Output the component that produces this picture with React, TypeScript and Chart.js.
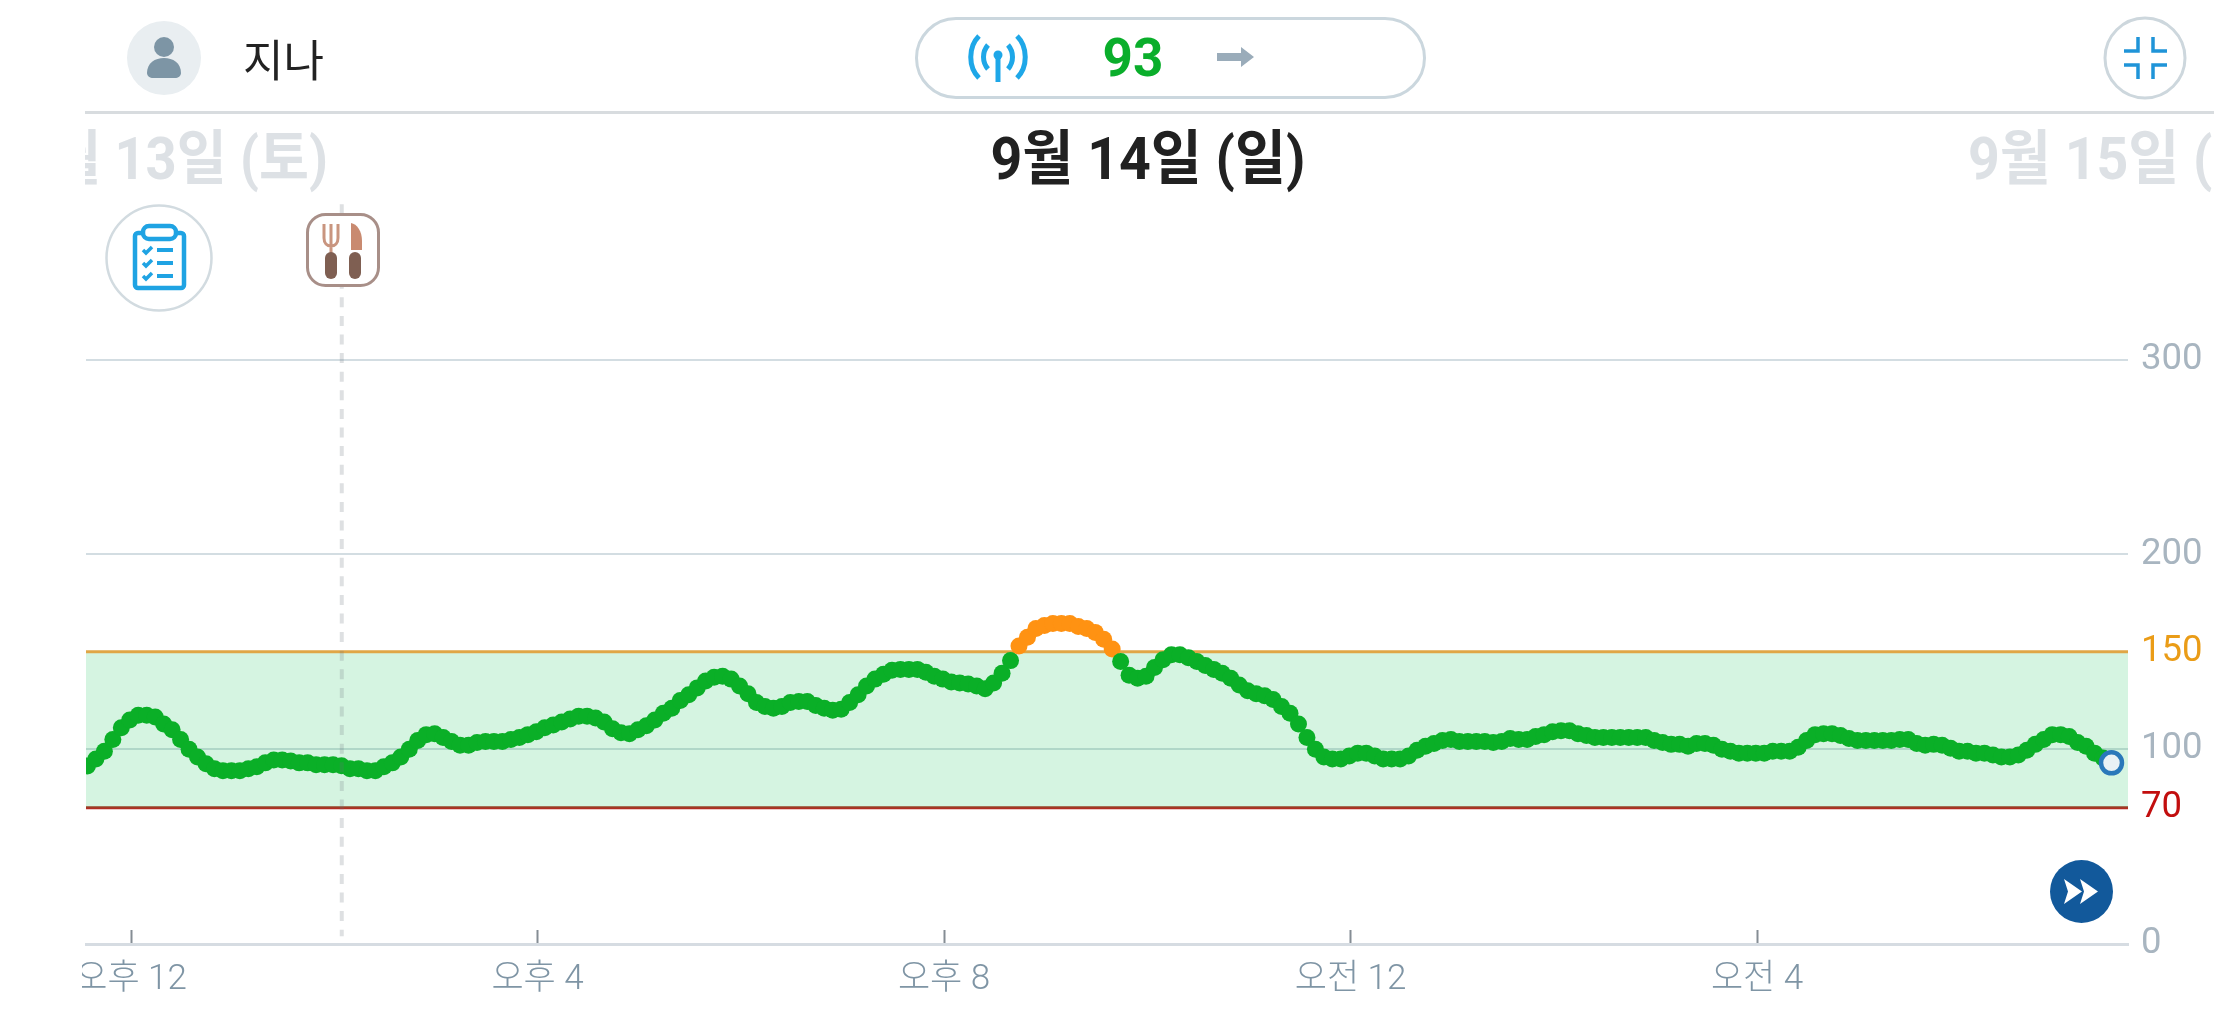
import React, { useEffect, useRef } from "react";
import { Chart, registerables } from "chart.js";

Chart.register(...registerables);

// Glucose readings at a 5 minute interval
const glucoseValues = [
  91.4, 95, 99, 105, 111, 115, 117.5, 117.5, 116.5, 113, 110, 105, 100, 96, 92.5, 90, 89, 89, 89, 90,
  91, 93, 94.5, 94.5, 94, 93, 93, 92, 92, 92, 91.5, 90, 90, 89, 89, 91, 93, 96, 100, 104.5,
  107.5, 108, 106, 104, 102, 102, 103.5, 104, 104, 104, 105, 106, 107.5, 109, 111, 112.5, 114, 115.5, 117, 117,
  116, 114, 110.5, 108.5, 108, 110, 112, 115, 118.5, 121, 125, 128, 131.5, 135, 137, 137.5, 136, 132.5, 128.5, 124,
  122, 121, 122, 124, 124.5, 124.5, 122.5, 121, 120, 120.5, 124, 128, 132.5, 136, 138.5, 140.5, 141, 141, 141, 139.5,
  137.5, 136, 134.5, 134, 133.5, 132.5, 131, 134, 139, 145.5, 153, 157.5, 162, 163.5, 164.5, 164.5, 164.5, 163, 162, 160,
  156.5, 151.5, 145, 138, 136.5, 137.5, 142, 146, 148.5, 148.5, 147, 145, 143, 141, 139, 136.5, 133, 130, 128.5, 127.5,
  125.5, 122, 118.5, 113, 106, 100, 96, 95, 95, 96.5, 98, 98, 96.5, 95, 95, 95, 96.5, 99.5, 101.5, 103,
  104.5, 105, 104, 104, 104, 104, 103.5, 104, 105.5, 105, 105, 106.5, 107.5, 109, 109.5, 109.5, 108, 107, 106, 106,
  106, 106, 106, 106, 106, 104.5, 103.5, 102.5, 102.5, 101.5, 103, 103, 102, 100, 99, 98, 98, 98, 98, 99,
  99, 99, 101, 104.5, 107.5, 108, 108, 107, 105.5, 104.5, 104.5, 104.5, 104.5, 104.5, 105, 105, 103, 102, 102.5, 102,
  100.5, 99, 99, 98, 98, 97, 96, 96, 97, 99.5, 102.5, 105, 107.5, 107.5, 106.5, 103.5, 101.5, 98, 95.5, 93,
];
const firstMinute = -25.75; // minutes after noon of the first reading
const stepMinutes = 5;
const mealMinute = 124.4;
const minuteMin = -26.6;
const minuteMax = 1179;
const tickMinutes = [0, 240, 480, 720, 960];
const tickLabels = ["오후 12", "오후 4", "오후 8", "오전 12", "오전 4"];
const yTicks = [0, 70, 100, 150, 200, 300];
const yMax = 382;
const lowLimit = 70;
const highLimit = 150;

const FONT = "Roboto, 'Noto Sans CJK KR', sans-serif";

const abs = (l: number, t: number, w: number, h: number): React.CSSProperties => ({
  position: "absolute",
  left: l,
  top: t,
  width: w,
  height: h,
});

function GlucoseChart() {
  const ref = useRef<HTMLCanvasElement>(null);
  useEffect(() => {
    const points = glucoseValues.map((y, i) => ({ x: firstMinute + i * stepMinutes, y }));
    const last = points[points.length - 1];
    const chart = new Chart(ref.current!, {
      type: "scatter",
      data: {
        datasets: [
          {
            label: "meal",
            data: [
              { x: mealMinute, y: yMax },
              { x: mealMinute, y: 4 },
            ],
            showLine: true,
            pointRadius: 0,
            borderColor: "rgba(105,115,125,0.22)",
            borderWidth: 4,
            borderDash: [10, 8.6],
            borderDashOffset: 14.3,
            order: 0,
          },
          {
            label: "current",
            data: [last],
            pointRadius: 10.5,
            pointBorderWidth: 4.5,
            pointBackgroundColor: "#e9f1f5",
            pointBorderColor: "#2a78ba",
            clip: false,
            order: 1,
          },
          {
            label: "glucose",
            data: points.slice(0, -1),
            pointRadius: 8.5,
            pointBorderWidth: 0,
            pointBackgroundColor: (c: any) => (c.raw && c.raw.y > highLimit ? "#ff9212" : "#0aaf27"),
            clip: 0,
            order: 2,
          },
          {
            label: "high",
            data: [
              { x: minuteMin, y: highLimit },
              { x: minuteMax, y: highLimit },
            ],
            showLine: true,
            pointRadius: 0,
            borderColor: "#e0a646",
            borderWidth: 3,
            fill: { value: lowLimit },
            backgroundColor: "rgba(0,190,70,0.165)",
            order: 3,
          },
          {
            label: "low",
            data: [
              { x: minuteMin, y: lowLimit },
              { x: minuteMax, y: lowLimit },
            ],
            showLine: true,
            pointRadius: 0,
            borderColor: "#b32b22",
            borderWidth: 3,
            order: 4,
          },
        ],
      },
      options: {
        animation: false,
        responsive: false,
        layout: { autoPadding: false, padding: { left: 4, top: 200, right: 0, bottom: 0 } },
        plugins: { legend: { display: false }, tooltip: { enabled: false } },
        scales: {
          x: {
            type: "linear",
            position: "bottom",
            min: minuteMin,
            max: minuteMax,
            afterBuildTicks: (s: any) => {
              s.ticks = tickMinutes.map((value) => ({ value }));
            },
            afterFit: (s: any) => {
              s.height = 73;
              s.paddingLeft = s.paddingRight = s.paddingTop = s.paddingBottom = 0;
            },
            border: { color: "#d6dce2", width: 3 },
            grid: {
              drawOnChartArea: false,
              drawTicks: true,
              tickLength: -14,
              tickColor: "#858d94",
              tickWidth: 2,
            },
            ticks: {
              autoSkip: false,
              maxRotation: 0,
              padding: 29,
              color: "#7f95a5",
              font: { family: FONT, size: 35, weight: "300" },
              callback: (v: any) => tickLabels[tickMinutes.indexOf(v)],
            },
          },
          y: {
            type: "linear",
            position: "right",
            min: 0,
            max: yMax,
            afterBuildTicks: (s: any) => {
              s.ticks = yTicks.map((value) => ({ value }));
            },
            afterFit: (s: any) => {
              s.width = 86;
              s.paddingLeft = s.paddingRight = s.paddingTop = s.paddingBottom = 0;
            },
            border: { display: false },
            grid: {
              drawTicks: false,
              lineWidth: 2,
              color: (c: any) =>
                c.tick && (c.tick.value === 100 || c.tick.value === 200 || c.tick.value === 300)
                  ? "#d3dde2"
                  : "transparent",
            },
            ticks: {
              padding: 13,
              labelOffset: 0,
              font: { family: FONT, size: 36.5 },
              color: (c: any) =>
                c.tick.value === highLimit ? "#ea9c17" : c.tick.value === lowLimit ? "#c20e0e" : "#a8b5c0",
              callback: (v: any) => String(v),
            },
          },
        },
      },
    } as any);
    return () => chart.destroy();
  }, []);
  return <canvas ref={ref} width={2132} height={1017} style={{ position: "absolute", left: 82, top: 0 }} />;
}

function Header() {
  const boldDate = (color: string): React.CSSProperties => ({
    fontFamily: FONT,
    fontWeight: 700,
    fontSize: 59,
    lineHeight: "70px",
    color,
    whiteSpace: "nowrap",
  });
  return (
    <>
      {/* avatar */}
      <svg style={abs(127, 21, 74, 74)} viewBox="0 0 74 74">
        <circle cx="37" cy="37" r="37" fill="#e9eef1" />
        <circle cx="37" cy="26" r="10" fill="#7d95a5" />
        <path d="M20 52c0-10 8-15 17-15s17 5 17 15c0 3-3 5-6 5H26c-3 0-6-2-6-5z" fill="#7d95a5" />
      </svg>
      <div
        style={{
          position: "absolute",
          left: 243,
          top: 28,
          fontFamily: "'Noto Sans CJK KR', sans-serif",
          fontSize: 44,
          lineHeight: "60px",
          color: "#222",
        }}
      >
        지나
      </div>

      {/* status pill */}
      <div
        style={{
          ...abs(915, 17, 511, 82),
          boxSizing: "border-box",
          border: "3px solid #cbd7de",
          borderRadius: 41,
          background: "#fff",
        }}
      />
      <svg style={abs(966, 30, 64, 56)} viewBox="0 0 64 56" fill="none" stroke="#1ea7e8" strokeWidth="5">
        <path d="M13 6C2 17 2 37 13 48M51 6c11 11 11 31 0 42" />
        <path d="M22 15c-6 7-6 17 0 24M42 15c6 7 6 17 0 24" />
        <path d="M32 26v26" />
        <circle cx="32" cy="25" r="4.5" fill="#1ea7e8" stroke="none" />
      </svg>
      <div
        style={{
          position: "absolute",
          left: 1083,
          width: 100,
          top: 23,
          textAlign: "center",
          fontFamily: FONT,
          fontWeight: 700,
          fontSize: 53,
          lineHeight: "70px",
          color: "#0aae2b",
        }}
      >
        93
      </div>
      <svg style={abs(1217, 47, 38, 20)} viewBox="0 0 38 20">
        <path d="M0 6h24V0l13 10-13 10v-6H0z" fill="#9aacba" />
      </svg>

      {/* collapse button */}
      <svg style={abs(2103, 16, 84, 84)} viewBox="0 0 84 84" fill="none">
        <circle cx="42" cy="42" r="40" stroke="#cdd7dd" strokeWidth="3" fill="#fff" />
        <path
          d="M21 35h14V21M64 35H50V21M21 49h14v14M64 49H50v14"
          stroke="#1f94d8"
          strokeWidth="3.5"
        />
      </svg>

      {/* header rule */}
      <div style={{ ...abs(85, 111, 2129, 3), background: "#d8dcdf" }} />

      {/* dates */}
      <div style={{ ...abs(85, 124, 243, 75), overflow: "hidden" }}>
        <div
          style={{
            ...boldDate("#dde1e5"),
            position: "absolute",
            right: 0,
            top: 0,
            transform: "scaleX(0.92)",
            transformOrigin: "right center",
          }}
        >
          9월 13일 (토)
        </div>
      </div>
      <div
        style={{
          ...boldDate("#212121"),
          position: "absolute",
          left: 948,
          width: 400,
          top: 124,
          textAlign: "center",
          transform: "scaleX(0.94)",
        }}
      >
        9월 14일 (일)
      </div>
      <div style={{ ...abs(1968, 124, 246, 75), overflow: "hidden" }}>
        <div
          style={{
            ...boldDate("#dde1e5"),
            position: "absolute",
            left: 0,
            top: 0,
            transform: "scaleX(0.94)",
            transformOrigin: "left center",
          }}
        >
          9월 15일 (일)
        </div>
      </div>

      {/* notes button */}
      <svg style={abs(105, 204, 108, 108)} viewBox="0 0 108 108" fill="none">
        <circle cx="54" cy="54" r="52.5" stroke="#d2dbe0" strokeWidth="2.5" fill="#fff" />
        <rect x="30" y="29" width="49" height="55" rx="3" stroke="#1fa3e3" strokeWidth="4.5" />
        <rect x="38" y="22" width="33" height="13" rx="6" stroke="#1fa3e3" strokeWidth="4.5" fill="#fff" />
        <path
          d="M38 46l3 3 6-6M38 59l3 3 6-6M38 72l3 3 6-6"
          stroke="#1fa3e3"
          strokeWidth="3.5"
        />
        <path d="M52 46h16M52 59h16M52 72h16" stroke="#1fa3e3" strokeWidth="4" />
      </svg>

      {/* meal marker */}
      <svg style={abs(305, 212, 76, 76)} viewBox="0 0 76 76" fill="none">
        <rect x="2.5" y="2.5" width="71" height="71" rx="18" stroke="#a88f88" strokeWidth="3" fill="#fff" />
        <path
          d="M19 12v14c0 5 3 8 7 8h0c4 0 7-3 7-8V12M26 12v30"
          stroke="#c9957f"
          strokeWidth="3"
        />
        <rect x="20" y="40" width="12" height="27" rx="6" fill="#7f5f52" />
        <path d="M46 11c6 1 11 8 11 18v9H46z" fill="#c98a70" />
        <rect x="44" y="40" width="12" height="27" rx="6" fill="#7f5f52" />
      </svg>

      {/* jump to latest */}
      <svg style={abs(2050, 860, 63, 63)} viewBox="0 0 63 63">
        <circle cx="31.5" cy="31.5" r="31.5" fill="#12599b" />
        <path d="M14 19l18 12.5L14 44l4-12.5z" fill="#fff" />
        <path d="M30 19l18 12.5L30 44l4-12.5z" fill="#fff" />
      </svg>
    </>
  );
}

export default function App() {
  return (
    <div style={{ ...abs(0, 0, 2214, 1017), overflow: "hidden", background: "#fff" }}>
      <GlucoseChart />
      <Header />
    </div>
  );
}
